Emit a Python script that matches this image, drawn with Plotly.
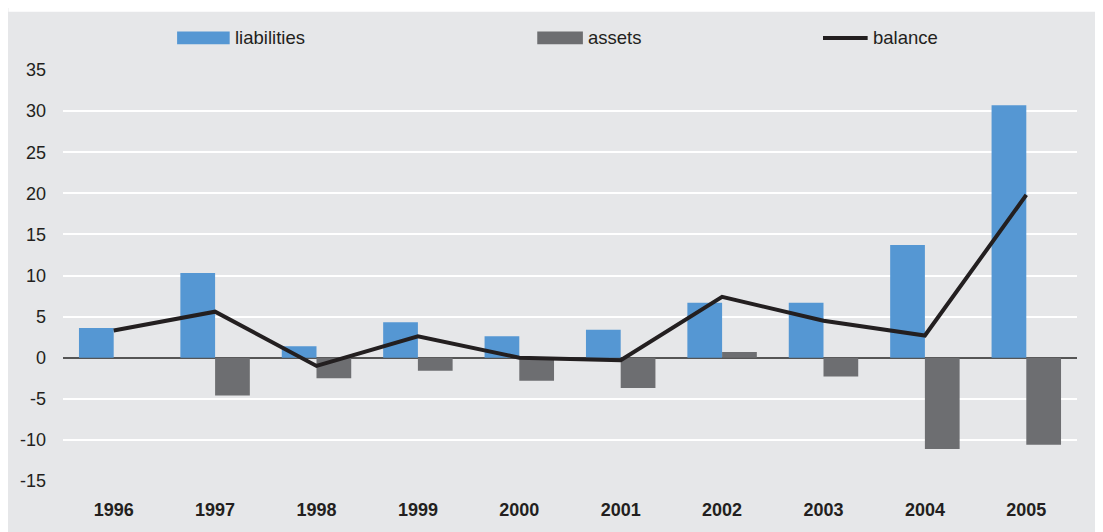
import plotly.graph_objects as go

years = ["1996", "1997", "1998", "1999", "2000", "2001", "2002", "2003", "2004", "2005"]
liabilities = [3.6, 10.3, 1.4, 4.3, 2.6, 3.4, 6.7, 6.7, 13.7, 30.7]
assets = [0.0, -4.6, -2.5, -1.6, -2.8, -3.7, 0.7, -2.3, -11.1, -10.6]
balance = [3.3, 5.6, -1.0, 2.6, 0.0, -0.3, 7.4, 4.5, 2.7, 19.8]
y_ticks = [-15, -10, -5, 0, 5, 10, 15, 20, 25, 30, 35]
y_tick_text = ["-15", "-10", "-5", "0", "5", "10", "15", "20", "25", "30", "35"]

BLUE = "#5597d3"
GRAY = "#6d6e71"
DARK = "#231f20"
BG = "#e6e7e9"
FONT = "Liberation Sans, Arial, sans-serif"

OFF = 8  # page body margin
W, H = 1103 - OFF, 532 - OFF
L, R, T, B = 55 - OFF, 1077 - OFF, 70 - OFF, 486 - OFF


def px_x(p):
    return (p - OFF - L) / (R - L)


def px_y(p):
    return (B - (p - OFF)) / (B - T)


fig = go.Figure()
fig.add_trace(go.Bar(x=years, y=liabilities, name="liabilities", marker_color=BLUE,
                     marker_line_width=0))
fig.add_trace(go.Bar(x=years, y=assets, name="assets", marker_color=GRAY,
                     marker_line_width=0))
fig.add_trace(go.Scatter(x=years, y=balance, name="balance", mode="lines",
                         line=dict(color=DARK, width=4)))

shapes = [
    # thin white strip at top
    dict(type="rect", xref="paper", yref="paper", x0=px_x(0), x1=px_x(1103),
         y0=px_y(11), y1=px_y(0), fillcolor="white", line_width=0, layer="above"),
    # legend swatches
    dict(type="rect", xref="paper", yref="paper", x0=px_x(170), x1=px_x(223),
         y0=px_y(44), y1=px_y(31), fillcolor=BLUE, line_width=0),
    dict(type="rect", xref="paper", yref="paper", x0=px_x(533), x1=px_x(579),
         y0=px_y(44), y1=px_y(31), fillcolor=GRAY, line_width=0),
    dict(type="line", xref="paper", yref="paper", x0=px_x(821), x1=px_x(866),
         y0=px_y(37.5), y1=px_y(37.5), line=dict(color=DARK, width=4)),
]

annotations = []
for label, xp in [("liabilities", 226), ("assets", 582), ("balance", 869)]:
    annotations.append(dict(text=label, xref="paper", yref="paper", x=px_x(xp), y=px_y(37.5),
                            xanchor="left", yanchor="middle", showarrow=False,
                            font=dict(family=FONT, size=18.5, color=DARK)))

fig.update_layout(
    width=W, height=H,
    margin=dict(l=L, r=W - R, t=T, b=H - B, pad=0),
    paper_bgcolor=BG, plot_bgcolor=BG,
    barmode="group", bargap=0.315, bargroupgap=0,
    showlegend=False,
    shapes=shapes, annotations=annotations,
    font=dict(family=FONT, size=18, color=DARK),
)
fig.update_xaxes(showgrid=False, zeroline=False, showline=False, ticks="",
                 tickfont=dict(family=FONT, size=18, color=DARK, weight="bold"),
                 ticklabelstandoff=16)
fig.update_yaxes(range=[-15, 35], tickvals=y_ticks, ticktext=y_tick_text,
                 showgrid=True, gridcolor="white",
                 gridwidth=2, zeroline=True, zerolinecolor="#555555", zerolinewidth=1.5,
                 showline=False, ticks="", tickfont=dict(family=FONT, size=18, color=DARK),
                 ticklabelstandoff=16)

fig.write_html("out.html")
